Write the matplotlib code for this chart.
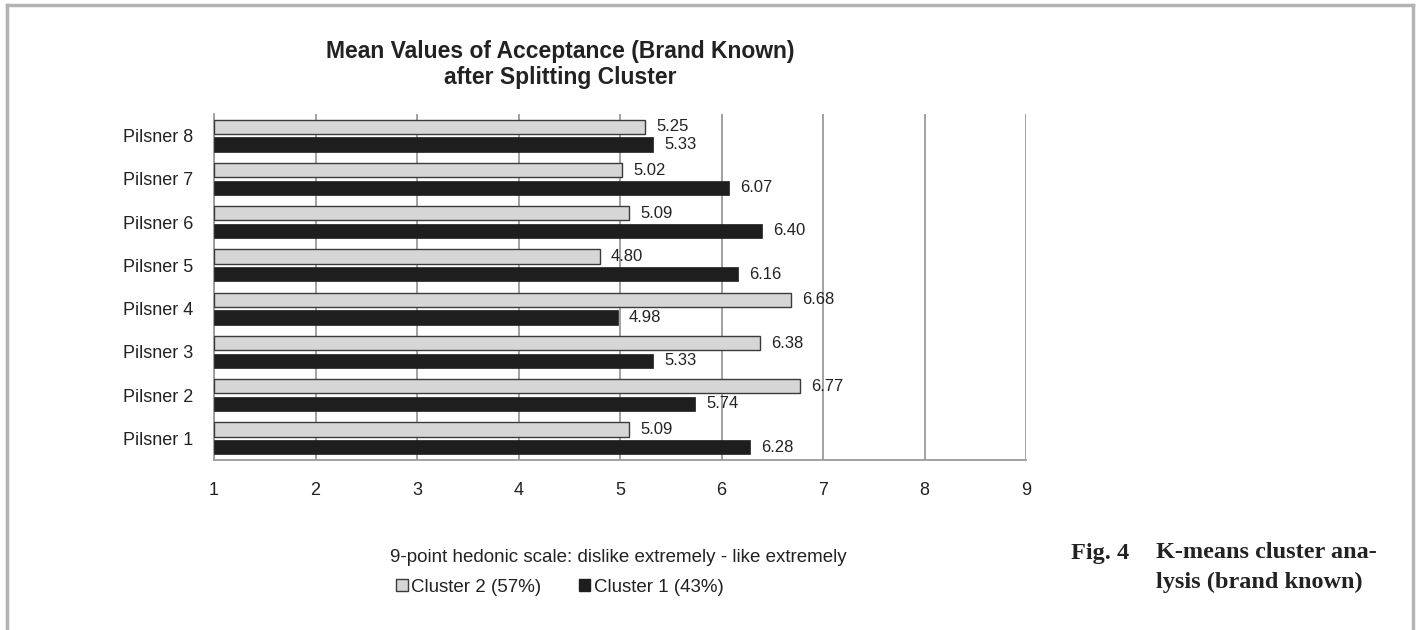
import numpy as np
import matplotlib
matplotlib.use("Agg")
import matplotlib.pyplot as plt
from matplotlib.patches import Patch
from matplotlib.lines import Line2D

plt.rcParams['font.family'] = ['Liberation Sans', 'DejaVu Sans']

# mean acceptance scores per beer, bottom to top
beers = ['Pilsner 1', 'Pilsner 2', 'Pilsner 3', 'Pilsner 4',
         'Pilsner 5', 'Pilsner 6', 'Pilsner 7', 'Pilsner 8']
cluster2 = [5.09, 6.77, 6.38, 6.68, 4.80, 5.09, 5.02, 5.25]
cluster1 = [6.28, 5.74, 5.33, 4.98, 6.16, 6.40, 6.07, 5.33]
xticks = [1, 2, 3, 4, 5, 6, 7, 8, 9]

W, H = 1419, 630
fig = plt.figure(figsize=(W / 100, H / 100), dpi=100)
ax = fig.add_axes([214 / W, 1 - 460 / H, (1026 - 214) / W, (460 - 114) / H])

y = np.arange(len(beers))
bh = 0.33
off = 0.205
base = 1
ax.barh(y + off, np.array(cluster2) - base, left=base, height=bh,
        color='#d6d6d6', edgecolor='#3a3a3a', linewidth=1.0, zorder=3)
ax.barh(y - off, np.array(cluster1) - base, left=base, height=bh,
        color='#1e1e1e', edgecolor='#1e1e1e', linewidth=0.5, zorder=3)

for yi, v in zip(y, cluster2):
    ax.annotate(f'{v:.2f}', (v, yi + off), xytext=(8, 0), textcoords='offset points',
                va='center', ha='left', fontsize=12, color='#222222', zorder=4)
for yi, v in zip(y, cluster1):
    ax.annotate(f'{v:.2f}', (v, yi - off), xytext=(8, 0), textcoords='offset points',
                va='center', ha='left', fontsize=12, color='#222222', zorder=4)

ax.set_xlim(1, 9)
ax.set_ylim(-0.5, 7.5)
ax.set_xticks(xticks)
ax.set_yticks(y)
ax.set_yticklabels(beers)
ax.tick_params(axis='x', length=0, pad=16, labelsize=13, labelcolor='#222222')
ax.tick_params(axis='y', length=0, pad=15, labelsize=13, labelcolor='#222222')
ax.grid(axis='x', color='#9a9a9a', linewidth=1.3)
ax.set_axisbelow(True)
for s in ['top', 'right']:
    ax.spines[s].set_visible(False)
for s in ['left', 'bottom']:
    ax.spines[s].set_color('#9a9a9a')
    ax.spines[s].set_linewidth(1.3)

fig.text(560 / W, 1 - 58 / H, 'Mean Values of Acceptance (Brand Known)',
         ha='center', va='baseline', fontsize=16.5, fontweight='bold', color='#222222')
fig.text(560 / W, 1 - 84 / H, 'after Splitting Cluster',
         ha='center', va='baseline', fontsize=16.5, fontweight='bold', color='#222222')

fig.text(618 / W, 1 - 558 / H, '9-point hedonic scale: dislike extremely - like extremely',
         ha='center', va='center', fontsize=13.5, color='#222222')

handles = [Patch(facecolor='#d6d6d6', edgecolor='#3a3a3a', linewidth=1.0),
           Patch(facecolor='#1e1e1e', edgecolor='#1e1e1e')]
fig.legend(handles, ['Cluster 2 (57%)', 'Cluster 1 (43%)'], loc='center',
           bbox_to_anchor=(560 / W, 1 - 587 / H), ncol=2, frameon=False,
           fontsize=13.5, handlelength=0.6, handleheight=0.6, handletextpad=0.2,
           columnspacing=2.0, labelcolor='#222222')

# figure caption
cap = dict(ha='left', va='center', family='Liberation Serif', fontweight='bold',
           fontsize=17.5, color='#222222')
fig.text(1071 / W, 1 - 553 / H, 'Fig. 4', **cap)
fig.text(1156 / W, 1 - 553 / H, 'K-means cluster ana-', **cap)
fig.text(1156 / W, 1 - 582 / H, 'lysis (brand known)', **cap)

# frame around the panel (open at the bottom)
fc = '#b4b4b4'
fig.add_artist(Line2D([7 / W, 1413 / W], [1 - 5 / H, 1 - 5 / H], color=fc, linewidth=2.5))
fig.add_artist(Line2D([7 / W, 7 / W], [0, 1 - 5 / H], color=fc, linewidth=2.5))
fig.add_artist(Line2D([1413 / W, 1413 / W], [0, 1 - 5 / H], color=fc, linewidth=2.5))

fig.savefig('out.png', dpi=100)
